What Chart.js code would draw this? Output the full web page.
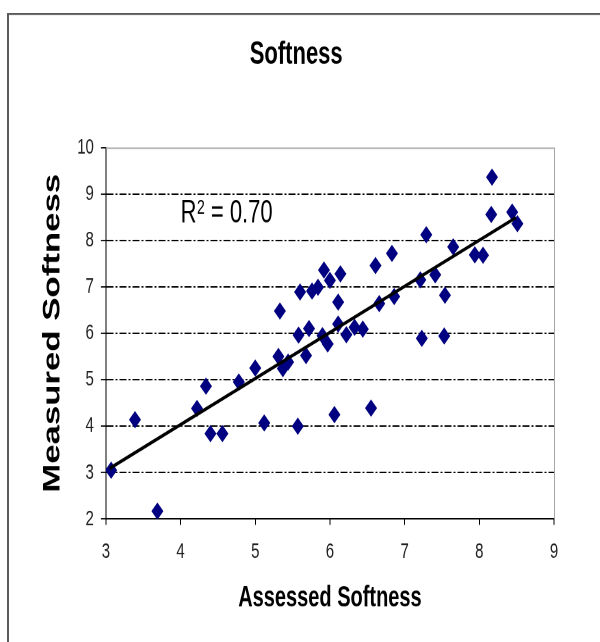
<!DOCTYPE html>
<html>
<head>
<meta charset="utf-8">
<title>Softness</title>
<script src="https://cdn.jsdelivr.net/npm/chart.js@4.4.0/dist/chart.umd.min.js"></script>
<style>
    html, body { margin: 0; padding: 0; background: #fff; }
    #page { width: 600px; height: 642px; }
    /* the original picture is stretched in height, so is this one */
    #wrap { width: 600px; height: 443px; transform: scaleY(1.449); transform-origin: 0 0; }
</style>
</head>
<body>
<div id="page"><div id="wrap"><canvas id="softnessChart" width="600" height="443"></canvas></div></div>
<script>
// values
var assessed = [3.07, 3.39, 3.69, 4.22, 4.34, 4.40, 4.56, 4.78, 5.00, 5.12,
                5.31, 5.37, 5.44, 5.33, 5.57, 5.58, 5.60, 5.68, 5.72, 5.76,
                5.84, 5.90, 5.92, 5.97, 6.00, 6.06, 6.11, 6.11, 6.14, 6.22,
                6.33, 6.44, 6.55, 6.61, 6.66, 6.83, 6.86, 7.21, 7.23, 7.29,
                7.41, 7.53, 7.54, 7.65, 7.94, 8.05, 8.16, 8.17, 8.44, 8.51];
var measured = [3.05, 4.14, 2.17, 4.38, 4.86, 3.84, 3.84, 4.95, 5.25, 4.07,
                5.50, 5.24, 5.38, 6.48, 4.00, 5.96, 6.89, 5.52, 6.10, 6.91,
                6.99, 5.95, 7.36, 5.77, 7.14, 4.25, 6.67, 6.20, 7.28, 5.97,
                6.13, 6.09, 4.39, 7.46, 6.64, 7.72, 6.79, 7.15, 5.89, 8.12,
                7.26, 5.94, 6.82, 7.86, 7.69, 7.68, 8.56, 9.36, 8.61, 8.36];
var trendX = [3.05, 8.49];
var trendY = [3.09, 8.49];
var xTicks = [3, 4, 5, 6, 7, 8, 9];
var yTicks = [2, 3, 4, 5, 6, 7, 8, 9, 10];
var rSquared = '0.70';
var rLabelAt = [4.0, 8.39];

var fam = "'Liberation Sans', Arial, sans-serif";

var points = assessed.map(function (x, i) { return { x: x, y: measured[i] }; });
var trend = trendX.map(function (x, i) { return { x: x, y: trendY[i] }; });

// outer frame, plot border and the R² note
var extras = {
    id: 'extras',
    beforeDraw: function (chart) {
        var ctx = chart.ctx;
        ctx.save();
        ctx.strokeStyle = '#5a5a5a';
        ctx.lineWidth = 2;
        ctx.beginPath();
        ctx.moveTo(8, 500);
        ctx.lineTo(8, 9);
        ctx.stroke();
        ctx.lineWidth = 1.4;
        ctx.beginPath();
        ctx.moveTo(7, 9.7);
        ctx.lineTo(700, 9.7);
        ctx.stroke();
        ctx.restore();
    },
    afterDraw: function (chart) {
        var ctx = chart.ctx;
        var a = chart.chartArea;
        ctx.save();
        ctx.strokeStyle = '#a6a6a6';
        ctx.lineWidth = 1;
        ctx.beginPath();
        ctx.moveTo(a.left, a.top + 0.5);
        ctx.lineTo(a.right + 0.5, a.top + 0.5);
        ctx.lineTo(a.right + 0.5, a.bottom);
        ctx.stroke();

        var x = chart.scales.x.getPixelForValue(rLabelAt[0]);
        var y = chart.scales.y.getPixelForValue(rLabelAt[1]);
        ctx.fillStyle = '#000';
        ctx.textBaseline = 'alphabetic';
        ctx.textAlign = 'left';
        ctx.font = '22px ' + fam;
        ctx.fillText('R', x, y);
        var w = ctx.measureText('R').width;
        ctx.font = '14px ' + fam;
        ctx.fillText('2', x + w + 0.5, y - 6);
        var w2 = ctx.measureText('2').width;
        ctx.font = '22px ' + fam;
        ctx.fillText(' = ' + rSquared, x + w + w2 + 0.5, y);
        ctx.restore();
    }
};

document.addEventListener("DOMContentLoaded", function () {
    var ctx = document.getElementById('softnessChart').getContext('2d');

    var softnessChart = new Chart(ctx, {
        type: 'scatter',
        data: {
            datasets: [{
                type: 'line',
                label: 'Trend',
                data: trend,
                borderColor: '#000',
                borderWidth: 2.4,
                pointRadius: 0,
                fill: false,
                order: 0
            }, {
                label: 'Softness',
                data: points,
                pointStyle: 'rectRot',
                pointRadius: 6,
                backgroundColor: '#000080',
                borderColor: '#000080',
                borderWidth: 0,
                order: 1
            }]
        },
        options: {
            responsive: false,
            devicePixelRatio: 2,
            animation: false,
            layout: {
                padding: { left: 38.4, right: 46, top: 0, bottom: 18.2 }
            },
            scales: {
                x: {
                    type: 'linear',
                    min: 3,
                    max: 9,
                    afterBuildTicks: function (axis) {
                        axis.ticks = xTicks.map(function (v) { return { value: v }; });
                    },
                    grid: {
                        drawOnChartArea: false,
                        drawTicks: true,
                        tickLength: 4,
                        tickColor: '#000'
                    },
                    border: { color: '#000', width: 1 },
                    ticks: {
                        color: '#222',
                        padding: 9.5,
                        maxRotation: 0,
                        font: { family: fam, size: 15 }
                    },
                    title: {
                        display: true,
                        text: 'Assessed Softness',
                        color: '#000',
                        padding: { top: 1.6, bottom: 0 },
                        font: { family: fam, size: 20, weight: 'bold' }
                    }
                },
                y: {
                    type: 'linear',
                    min: 2,
                    max: 10,
                    afterBuildTicks: function (axis) {
                        axis.ticks = yTicks.map(function (v) { return { value: v }; });
                    },
                    grid: {
                        color: function (c) {
                            var v = c.tick ? c.tick.value : 0;
                            return (v === 2 || v === 10) ? 'rgba(0,0,0,0)' : '#000';
                        },
                        lineWidth: 0.9,
                        drawTicks: true,
                        tickLength: 5,
                        tickColor: '#000'
                    },
                    border: { color: '#000', width: 1, dash: [7, 2, 2, 2] },
                    ticks: {
                        color: '#222',
                        padding: 7,
                        font: { family: fam, size: 15 }
                    },
                    title: {
                        display: true,
                        text: 'Measured Softness',
                        color: '#000',
                        padding: { top: 0, bottom: 3 },
                        font: { family: fam, size: 24, weight: 'bold' }
                    }
                }
            },
            plugins: {
                legend: { display: false },
                tooltip: { enabled: false },
                title: {
                    display: true,
                    text: 'Softness',
                    color: '#000',
                    padding: { top: 24.8, bottom: 50.6 },
                    font: { family: fam, size: 22, weight: 'bold' }
                }
            }
        },
        plugins: [extras]
    });
});
</script>
</body>
</html>
